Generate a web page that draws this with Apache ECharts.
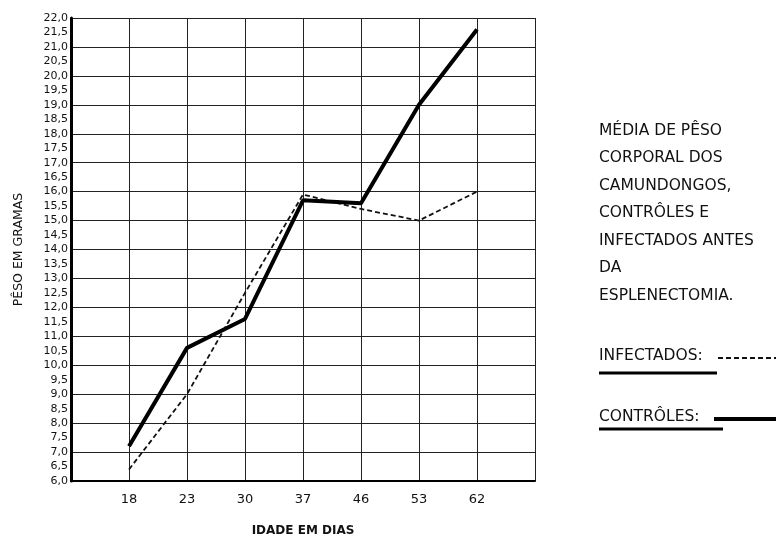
<!DOCTYPE html>
<html>
<head>
<meta charset="utf-8">
<script src="https://cdn.jsdelivr.net/npm/echarts@6/dist/echarts.min.js"></script>
<style>html,body{margin:0;padding:0;background:#fff;}#c{width:776px;height:536px;}</style>
</head>
<body>
<div id="c"></div>
<script>
var categories = ['', '18', '23', '30', '37', '46', '53', '62', ''];
var infectados = [null, 6.4, 9.0, 12.5, 15.9, 15.4, 15.0, 16.0, null];
var controles = [null, 7.2, 10.6, 11.6, 15.7, 15.6, 19.0, 21.6, null];
var titleLines = ['MÉDIA DE PÊSO', 'CORPORAL DOS', 'CAMUNDONGOS,', 'CONTRÔLES E', 'INFECTADOS ANTES', 'DA', 'ESPLENECTOMIA.'];
var legendNames = ['INFECTADOS:', 'CONTRÔLES:'];
var font = 'DejaVu Sans';

var chart = echarts.init(document.getElementById('c'));
chart.setOption({
  animation: false,
  backgroundColor: '#fff',
  grid: {left: 71, right: 241, top: 18, bottom: 55, containLabel: false, outerBoundsMode: 'none'},
  xAxis: {
    type: 'category', data: categories, boundaryGap: false,
    name: 'IDADE EM DIAS', nameLocation: 'middle', nameGap: 44,
    nameTextStyle: {fontFamily: font, fontSize: 12, color: '#111', fontWeight: 'bold'},
    axisLine: {lineStyle: {color: '#000', width: 2}},
    axisTick: {show: false},
    axisLabel: {fontFamily: font, fontSize: 13, color: '#111', margin: 12},
    splitLine: {show: true, lineStyle: {color: '#222', width: 1}}
  },
  yAxis: [{
    type: 'value', min: 6, max: 22, interval: 1, position: 'left',
    axisLine: {show: true, lineStyle: {color: '#000', width: 3}},
    axisTick: {show: false}, axisLabel: {show: false},
    splitLine: {show: true, lineStyle: {color: '#222', width: 1}}
  }, {
    type: 'value', min: 6, max: 22, interval: 0.5, position: 'left',
    name: 'PÊSO EM GRAMAS', nameLocation: 'middle', nameGap: 46,
    nameTextStyle: {fontFamily: font, fontSize: 12.5, color: '#111'},
    axisLine: {show: false}, axisTick: {show: false},
    axisLabel: {fontFamily: font, fontSize: 11, color: '#111', margin: 3,
      formatter: function (v) { return v.toFixed(1).replace('.', ','); }},
    splitLine: {show: false}
  }],
  series: [{
    name: legendNames[0], type: 'line', data: infectados, symbol: 'none',
    lineStyle: {color: '#111', width: 1.8, type: [5, 3]}, itemStyle: {color: '#111'}
  }, {
    name: legendNames[1], type: 'line', data: controles, symbol: 'none',
    lineStyle: {color: '#000', width: 4}, itemStyle: {color: '#000'}
  }],
  graphic: [{
    type: 'text', left: 599, top: 117,
    style: {text: titleLines.join('\n'), fontFamily: font, fontSize: 15.5, lineHeight: 27.5, fill: '#111'}
  }, {
    type: 'text', left: 599, top: 348,
    style: {text: legendNames[0], fontFamily: font, fontSize: 15.5, fill: '#111'}
  }, {
    type: 'line', shape: {x1: 718, y1: 358, x2: 776, y2: 358}, style: {stroke: '#111', lineWidth: 1.8, lineDash: [5, 3]}
  }, {
    type: 'line', shape: {x1: 599, y1: 373, x2: 717, y2: 373}, style: {stroke: '#000', lineWidth: 3}
  }, {
    type: 'text', left: 599, top: 409,
    style: {text: legendNames[1], fontFamily: font, fontSize: 15.5, fill: '#111'}
  }, {
    type: 'line', shape: {x1: 714, y1: 419, x2: 776, y2: 419}, style: {stroke: '#000', lineWidth: 4}
  }, {
    type: 'line', shape: {x1: 599, y1: 429, x2: 723, y2: 429}, style: {stroke: '#000', lineWidth: 3}
  }]
});
</script>
</body>
</html>
